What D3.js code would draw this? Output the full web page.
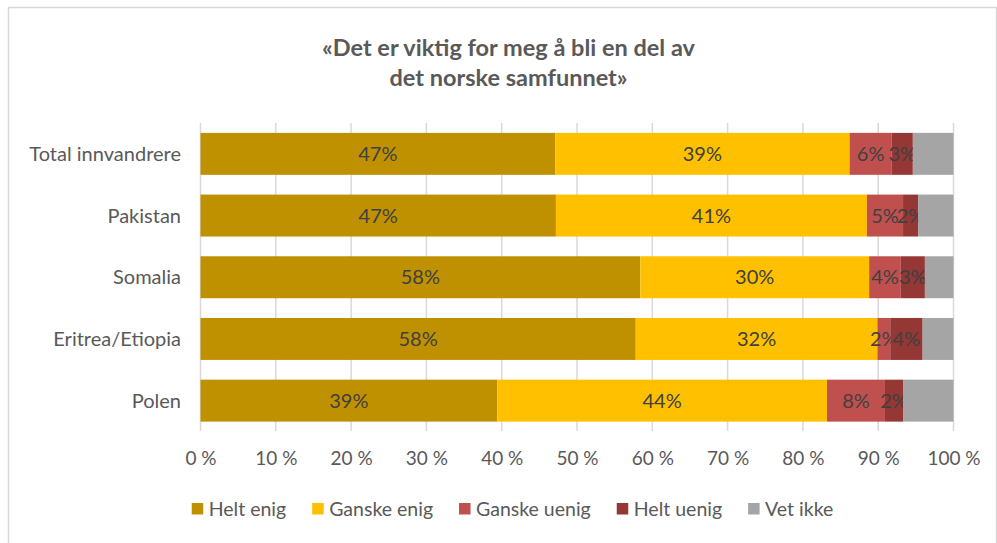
<!DOCTYPE html>
<html><head><meta charset="utf-8">
<script src="https://cdn.jsdelivr.net/npm/d3@7"></script>
<style>body{margin:0;background:#fff}svg{display:block;font-family:Lato,"Open Sans",sans-serif}</style>
</head><body><svg id="c" width="997" height="543"></svg>
<script>
const categories = ["Total innvandrere","Pakistan","Somalia","Eritrea/Etiopia","Polen"];
const seriesNames = ["Helt enig","Ganske enig","Ganske uenig","Helt uenig","Vet ikke"];
const heltEnig    = [47.1, 47.2, 58.4, 57.8, 39.4];
const ganskeEnig  = [39.1, 41.3, 30.4, 32.1, 43.8];
const ganskeUenig = [5.6, 4.8, 4.2, 1.7, 7.7];
const heltUenig   = [2.8, 2.0, 3.2, 4.3, 2.4];
const vetIkke     = [5.4, 4.7, 3.8, 4.1, 6.7];
const showLabel   = [true, true, true, true, false];
const colors = ["#BF9000","#FFC000","#C0504D","#953735","#A5A5A5"];
const ticks = [0,10,20,30,40,50,60,70,80,90,100];
const titleLines = ["«Det er viktig for meg å bli en del av","det norske samfunnet»"];

const series = [heltEnig, ganskeEnig, ganskeUenig, heltUenig, vetIkke];
const rows = categories.map((c,i)=>{const o={cat:c}; seriesNames.forEach((s,j)=>o[s]=series[j][i]); return o;});
const stacked = d3.stack().keys(seriesNames)(rows);

const svg = d3.select("#c");
svg.append("rect").attr("x",8.5).attr("y",7.5).attr("width",988).attr("height",560)
  .attr("fill","#fff").attr("stroke","#d9d9d9").attr("stroke-width",1.5);

const x = d3.scaleLinear().domain([0,100]).range([200.5,953.5]);
const y = d3.scaleBand().domain(categories).range([123,431.5]).paddingInner(0.32).paddingOuter(0.16);

// title
svg.append("g").selectAll("text").data(titleLines).join("text")
  .attr("x",508.5).attr("y",(d,i)=>55.5+i*30).attr("text-anchor","middle")
  .attr("font-size",23.5).attr("font-weight","bold").attr("fill","#595959").text(d=>d);

// gridlines
svg.append("g").selectAll("line").data(ticks).join("line")
  .attr("x1",d=>x(d)).attr("x2",d=>x(d)).attr("y1",123).attr("y2",431)
  .attr("stroke","#d9d9d9").attr("stroke-width",1.5);

// bars
const g = svg.append("g");
stacked.forEach((s,j)=>{
  g.append("g").attr("fill",colors[j]).selectAll("rect").data(s).join("rect")
    .attr("x",d=>x(d[0])).attr("width",d=>x(d[1])-x(d[0]))
    .attr("y",d=>y(d.data.cat)).attr("height",y.bandwidth());
  if(showLabel[j]){
    g.append("g").selectAll("text").data(s).join("text")
      .attr("x",d=>(x(d[0])+x(d[1]))/2).attr("y",d=>y(d.data.cat)+y.bandwidth()/2)
      .attr("dy","0.36em").attr("text-anchor","middle").attr("font-size",20)
      .attr("fill","#404040").text(d=>Math.round(d[1]-d[0])+"%");
  }
});

// x axis
const xa = svg.append("g").attr("transform","translate(0,465)")
  .call(d3.axisBottom(x).tickValues(ticks).tickSize(0).tickFormat(d=>d+" %"));
xa.select(".domain").remove();
xa.selectAll("text").attr("y",0).attr("dy",0).attr("font-size",19).attr("fill","#595959").attr("font-family","Lato");

// y axis
const ya = svg.append("g").attr("transform","translate(181,0)")
  .call(d3.axisLeft(y).tickSize(0).tickPadding(0));
ya.select(".domain").remove();
ya.selectAll("text").attr("font-size",20).attr("fill","#595959").attr("font-family","Lato").attr("dy","0.35em");

// legend
const lg = svg.append("g");
const items = lg.selectAll("g").data(seriesNames).join("g");
items.append("rect").attr("width",11.5).attr("height",11.5).attr("y",503).attr("fill",(d,i)=>colors[i]);
items.append("text").attr("x",17).attr("y",515.5).attr("font-size",19.5).attr("fill","#595959").text(d=>d);
let widths=[]; items.each(function(){widths.push(this.getBBox().width);});
const gap=26; const total=d3.sum(widths)+gap*(widths.length-1);
let cx=512.5-total/2;
items.attr("transform",(d,i)=>{const t=`translate(${cx},0)`; cx+=widths[i]+gap; return t;});
</script></body></html>
